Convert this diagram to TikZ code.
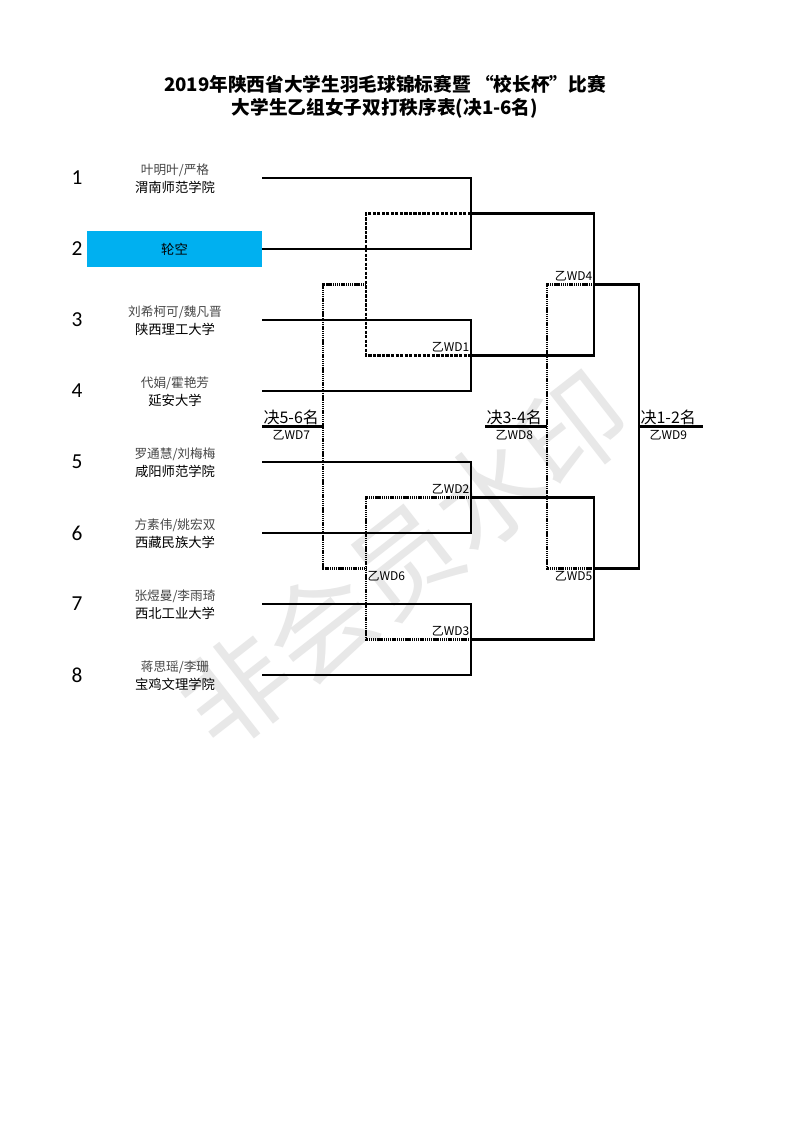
\documentclass[tikz,border=0pt]{standalone}
\usepackage{fontspec}
\setmainfont{Noto Sans CJK SC}
\newfontfamily\numfont{Carlito}
\usepackage{tikz}
\usepackage{xcolor}
\usetikzlibrary{positioning}
\definecolor{byeblue}{HTML}{00B0F0}

\begin{document}
\begin{tikzpicture}[
    x=0.75pt, y=-0.75pt,
    node distance=1pt,
    wline/.style={line width=1.7pt, draw=black},
    dashline/.style={wline, dash pattern=on 2.4pt off 1pt},
    dotline/.style={wline, dash pattern=on 0.9pt off 0.5pt},
    seed/.style={font=\numfont\fontsize{16}{16}\selectfont, inner sep=0pt},
    pname/.style={font=\fontsize{9.5}{10}\selectfont, text=black!72, inner sep=0pt},
    school/.style={font=\fontsize{10}{11}\selectfont, inner sep=0pt},
    byebox/.style={
      fill=byeblue,
      minimum width=131.25pt,
      minimum height=27pt,
      inner sep=0pt,
      font=\fontsize{10}{11}\selectfont
    },
    match/.style={font=\fontsize{9}{9}\selectfont, inner sep=1pt},
    above match/.style={match, anchor=south east, yshift=1.2pt},
    place/.style={font=\fontsize{12}{12}\selectfont, inner sep=1pt},
    title/.style={font=\bfseries\fontsize{14}{17}\selectfont, align=center},
    watermark/.style={font=\fontsize{80}{80}\selectfont, text=black!9, rotate=38}
  ]
    \useasboundingbox[fill=white] (0,0) rectangle (793,1122);

    \node[watermark] (stamp) at (405,560) {非会员水印};

    \node[title] (head) at (385,97) {2019年陕西省大学生羽毛球锦标赛暨 “校长杯”比赛\\ 大学生乙组女子双打秩序表(决1-6名)};

    % players
    \node[seed] (n1) at (77,178) {1};
    \node[seed] (n2) at (77,249) {2};
    \node[seed] (n3) at (77,320) {3};
    \node[seed] (n4) at (77,391) {4};
    \node[seed] (n5) at (77,462) {5};
    \node[seed] (n6) at (77,533) {6};
    \node[seed] (n7) at (77,604) {7};
    \node[seed] (n8) at (77,675) {8};

    \node[pname] (p1) at (175,170) {叶明叶/严格};
    \node[school] (c1) at (175,187) {渭南师范学院};
    \node[byebox] (p2) at (174.5,249) {轮空};
    \node[pname] (p3) at (175,312) {刘希柯可/魏凡晋};
    \node[school] (c3) at (175,329) {陕西理工大学};
    \node[pname] (p4) at (175,383) {代娟/霍艳芳};
    \node[school] (c4) at (175,400) {延安大学};
    \node[pname] (p5) at (175,454) {罗通慧/刘梅梅};
    \node[school] (c5) at (175,471) {咸阳师范学院};
    \node[pname] (p6) at (175,525) {方素伟/姚宏双};
    \node[school] (c6) at (175,542) {西藏民族大学};
    \node[pname] (p7) at (175,596) {张煜曼/李雨琦};
    \node[school] (c7) at (175,613) {西北工业大学};
    \node[pname] (p8) at (175,667) {蒋思瑶/李珊};
    \node[school] (c8) at (175,684) {宝鸡文理学院};

    \coordinate (a1) at (262,178);
    \coordinate (a2) at (262,249);
    \coordinate (a3) at (262,320);
    \coordinate (a4) at (262,391);
    \coordinate (a5) at (262,462);
    \coordinate (a6) at (262,533);
    \coordinate (a7) at (262,604);
    \coordinate (a8) at (262,675);

    % winners
    \coordinate (w1) at (471,213.5);
    \coordinate (w2) at (471,355.5);
    \coordinate (w3) at (471,497.5);
    \coordinate (w4) at (471,639.5);
    \coordinate (w5) at (594,284.5);
    \coordinate (w6) at (594,568.5);
    \coordinate (w7) at (639,426.5);
    \coordinate (f12) at (703,426.5);

    % losers
    \coordinate (l1) at (366,213.5);
    \coordinate (l2) at (366,355.5);
    \coordinate (l12) at (366,284.5);
    \coordinate (l3) at (366,497.5);
    \coordinate (l4) at (366,639.5);
    \coordinate (l34) at (366,568.5);
    \coordinate (q1) at (323,284.5);
    \coordinate (q2) at (323,568.5);
    \coordinate (q7) at (323,426.5);
    \coordinate (f56) at (262,426.5);
    \coordinate (r1) at (547,284.5);
    \coordinate (r2) at (547,568.5);
    \coordinate (r8) at (547,426.5);
    \coordinate (f34) at (485,426.5);

    \draw[dashline] (w1) -- (l1) -- (l2) -- (w2);
    \draw[dotline] (w3) -- (l3) -- (l4) -- (w4);
    \draw[dotline] (l12) -- (q1) -- (q2) -- (l34);
    \draw[dotline] (w5) -- (r1) -- (r2) -- (w6);

    \draw[wline] (a1) -| (w1) |- (a2);
    \draw[wline] (a3) -| (w2) |- (a4);
    \draw[wline] (a5) -| (w3) |- (a6);
    \draw[wline] (a7) -| (w4) |- (a8);
    \draw[wline] (w1) -| (w5) |- (w2);
    \draw[wline] (w3) -| (w6) |- (w4);
    \draw[wline] (w5) -| (w7) |- (w6);
    \draw[wline] (w7) -- (f12);
    \draw[wline] (q7) -- (f56);
    \draw[wline] (r8) -- (f34);

    % match labels
    \node[above match] (z1) at (w2) {乙WD1};
    \node[above match] (z2) at (w3) {乙WD2};
    \node[above match] (z3) at (w4) {乙WD3};
    \node[above match] (z4) at (w5) {乙WD4};
    \node[match, anchor=north east, yshift=-1.2pt] (z5) at (w6) {乙WD5};
    \node[match, anchor=north west, yshift=-1.2pt] (z6) at (l34) {乙WD6};

    \node[place, anchor=south west] (t56) at (f56) {决5-6名};
    \node[match, below=1.5pt of t56] (z7) {乙WD7};
    \node[place, anchor=south west] (t34) at (f34) {决3-4名};
    \node[match, below=1.5pt of t34] (z8) {乙WD8};
    \node[place, anchor=south west] (t12) at (w7) {决1-2名};
    \node[match, below=1.5pt of t12] (z9) {乙WD9};
  \end{tikzpicture}
\end{document}
